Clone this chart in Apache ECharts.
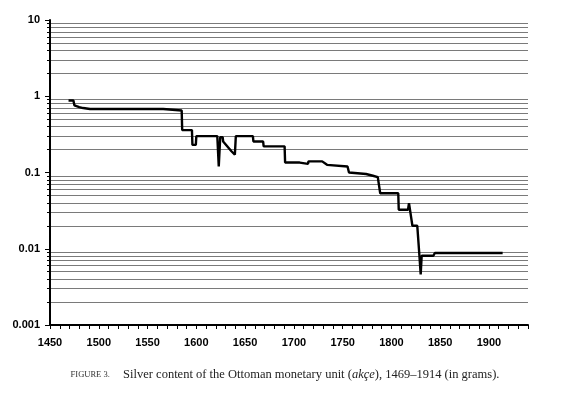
<!DOCTYPE html>
<html>
<head>
<meta charset="utf-8">
<script src="https://cdn.jsdelivr.net/npm/echarts@6/dist/echarts.min.js"></script>
<style>html,body{margin:0;padding:0;background:#fff;}#c{width:570px;height:393px;}</style>
</head>
<body>
<div id="c"></div>
<script>
// Silver content of the akçe (grams)
const years = [1469, 1474, 1475, 1480, 1484, 1491, 1566, 1566.5, 1585, 1585.5, 1595.5, 1596, 1599.5, 1600,
  1621.5, 1623, 1624.5, 1627, 1627.5, 1636, 1639.5, 1640.5, 1658, 1658.5, 1668.5, 1669, 1690.5, 1691,
  1706, 1706.5, 1714.5, 1715, 1729, 1734, 1755, 1756.5, 1774, 1781, 1786, 1788.5, 1807, 1807.5,
  1817, 1818, 1820, 1821.5, 1826.5, 1828.5, 1830, 1831, 1843, 1844.5, 1914];
const silver = [0.88, 0.88, 0.76, 0.72, 0.70, 0.68, 0.68, 0.65, 0.65, 0.36, 0.36, 0.23, 0.23, 0.30,
  0.30, 0.12, 0.29, 0.29, 0.255, 0.19, 0.171, 0.30, 0.30, 0.255, 0.255, 0.22, 0.22, 0.135,
  0.135, 0.13, 0.13, 0.14, 0.14, 0.126, 0.12, 0.10, 0.0955, 0.0906, 0.087, 0.0535, 0.0535, 0.0325,
  0.0325, 0.0397, 0.0397, 0.02, 0.02, 0.0088, 0.0046, 0.0081, 0.0081, 0.0088, 0.0088];
const yTickLabels = {"10": "10", "1": "1", "0.1": "0.1", "0.01": "0.01", "0.001": "0.001"};
const xLabelStep = 50;

const chart = echarts.init(document.getElementById('c'), null, {renderer: 'canvas'});
const data = years.map((y, i) => [y, silver[i]]);
const labelFont = {fontFamily: 'Liberation Sans, Arial, sans-serif', fontWeight: 'bold', fontSize: 11, color: '#000'};

chart.setOption({
  animation: false,
  backgroundColor: '#fff',
  grid: {left: 50, right: 42, top: 20, bottom: 68, containLabel: false},
  xAxis: {
    type: 'value', min: 1450, max: 1940, interval: 10,
    axisLine: {show: true, onZero: false, lineStyle: {color: '#000', width: 2}},
    axisTick: {show: true, inside: false, length: 4, lineStyle: {color: '#000', width: 1}},
    splitLine: {show: false},
    axisLabel: Object.assign({margin: 12, formatter: v => (v % xLabelStep === 0 ? String(v) : '')}, labelFont)
  },
  yAxis: {
    type: 'log', logBase: 10, min: 0.001, max: 10,
    axisLine: {show: true, lineStyle: {color: '#000', width: 2}},
    axisTick: {show: true, length: 5, lineStyle: {color: '#000', width: 1}},
    minorTick: {show: true, splitNumber: 9, length: 3, lineStyle: {color: '#000', width: 1}},
    splitLine: {show: false},
    minorSplitLine: {show: true, lineStyle: {color: '#7a7a7a', width: 1}},
    axisLabel: Object.assign({margin: 10, formatter: v => (yTickLabels[String(v)] || String(v))}, labelFont)
  },
  series: [{
    type: 'line', data: data, symbol: 'none', smooth: false,
    lineStyle: {color: '#000', width: 2.4}, z: 5
  }],
  graphic: [{
    type: 'text', left: 'center', top: 368,
    style: {
      text: '{sc|FIGURE 3.}    {n|Silver content of the Ottoman monetary unit (}{i|akçe}{n|), 1469–1914 (in grams).}',
      rich: {
        sc: {fontFamily: 'Liberation Serif, Times New Roman, serif', fontSize: 8.5, fill: '#333'},
        n: {fontFamily: 'Liberation Serif, Times New Roman, serif', fontSize: 12.5, fill: '#222'},
        i: {fontFamily: 'Liberation Serif, Times New Roman, serif', fontSize: 12.5, fontStyle: 'italic', fill: '#222'}
      }
    }
  }]
});
</script>
</body>
</html>
